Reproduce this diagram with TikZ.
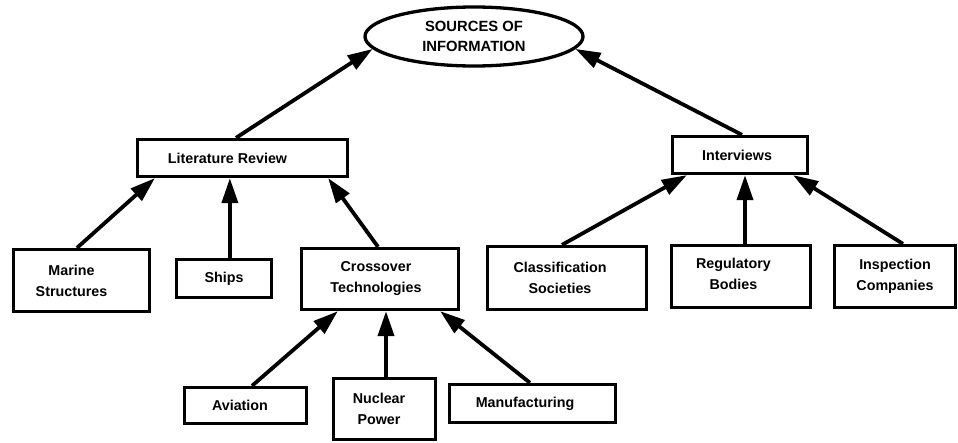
\documentclass[tikz,border=0pt]{standalone}
\usepackage{fontspec}
\setmainfont{Liberation Sans}
\usetikzlibrary{arrows.meta,shapes.geometric}
\begin{document}
\begin{tikzpicture}[x=1pt,y=-1pt,
  box/.style={draw,line width=3.3pt,rectangle,inner sep=0pt},
  lbl/.style={align=center,font=\bfseries\fontsize{14.3}{21}\selectfont,inner sep=0pt},
  oval/.style={draw,line width=3.3pt,ellipse,inner sep=0pt,align=center,
    font=\bfseries\fontsize{14.8}{20}\selectfont},
  arr/.style={line width=3.8pt,-{Triangle[length=25pt,width=16pt]}}]
\useasboundingbox (0,0) rectangle (958,442);
\node[oval,minimum width=218pt,minimum height=59pt] (ell) at (474,36.5) {SOURCES OF\\INFORMATION};
\node[box,minimum width=210pt,minimum height=37pt,label={[lbl,xshift=-15pt]center:Literature Review}] (lit) at (242.5,158) {};
\node[box,minimum width=135pt,minimum height=37pt,label={[lbl,xshift=-3pt]center:Interviews}] (int) at (740,155) {};
\node[box,minimum width=136pt,minimum height=62pt,label={[lbl,xshift=-10pt]center:Marine\\Structures}] (mar) at (81.5,280.5) {};
\node[box,minimum width=95pt,minimum height=38pt,label={[lbl]center:Ships}] (shp) at (224,278.5) {};
\node[box,minimum width=157pt,minimum height=61pt,label={[lbl,xshift=-4pt]center:Crossover\\Technologies}] (crs) at (380,279) {};
\node[box,minimum width=122pt,minimum height=36pt,label={[lbl,xshift=-5.5pt]center:Aviation}] (avi) at (245.5,405.5) {};
\node[box,minimum width=102pt,minimum height=61pt,label={[lbl,xshift=-5.5pt]center:Nuclear\\Power}] (nuc) at (384.5,409) {};
\node[box,minimum width=166pt,minimum height=38pt,label={[lbl,xshift=-7.5pt]center:Manufacturing}] (man) at (532.5,403.5) {};
\node[box,minimum width=159pt,minimum height=63pt,label={[lbl,xshift=-7pt]center:Classification\\Societies}] (cls) at (567,278) {};
\node[box,minimum width=139pt,minimum height=62pt,label={[lbl,xshift=-7.5pt,yshift=3pt]center:Regulatory\\Bodies}] (reg) at (741,276.5) {};
\node[box,minimum width=121pt,minimum height=62pt,label={[lbl]center:Inspection\\Companies}] (ins) at (895,276.5) {};
\draw[arr] ([xshift=-6.5pt]lit.north) -- (ell.187);
\draw[arr] ([xshift=2pt]int.north) -- (ell.353);
\draw[arr] ([xshift=-4.5pt]mar.north) -- ([xshift=19pt]lit.south west);
\draw[arr] ([xshift=6pt]shp.north) -- ([xshift=94pt]lit.south west);
\draw[arr] ([xshift=-2pt]crs.north) -- ([xshift=-21pt]lit.south east);
\draw[arr] ([xshift=6.5pt]avi.north) -- ([xshift=38pt]crs.south west);
\draw[arr] ([xshift=1.5pt]nuc.north) -- ([xshift=6pt]crs.south);
\draw[arr] ([xshift=-2.5pt]man.north) -- ([xshift=-20pt]crs.south east);
\draw[arr] ([xshift=-5pt]cls.north) -- ([xshift=16pt]int.south west);
\draw[arr] ([xshift=4pt]reg.north) -- ([xshift=5pt]int.south);
\draw[arr] ([xshift=8pt]ins.north) -- ([xshift=-16pt]int.south east);
\end{tikzpicture}
\end{document}
